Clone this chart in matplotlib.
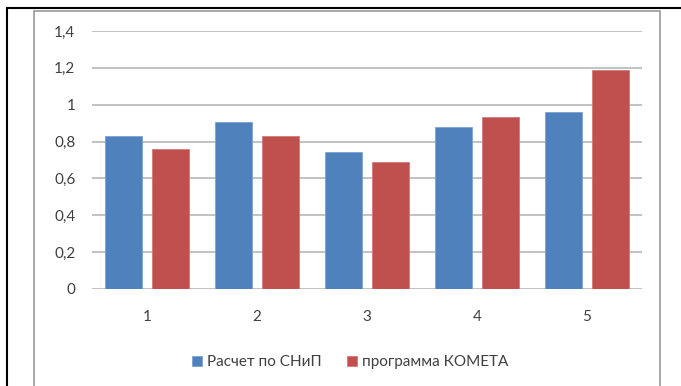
import numpy as np
import matplotlib.pyplot as plt
from matplotlib.patches import Rectangle
from matplotlib.lines import Line2D

# data
cats = ['1', '2', '3', '4', '5']
snip = [0.83, 0.905, 0.745, 0.88, 0.962]
kometa = [0.76, 0.83, 0.69, 0.933, 1.19]
names = ['Расчет по СНиП', 'программа КОМЕТА']
yticks = [0, 0.2, 0.4, 0.6, 0.8, 1.0, 1.2, 1.4]
ylabels = ['0', '0,2', '0,4', '0,6', '0,8', '1', '1,2', '1,4']

plt.rcParams['font.family'] = ['Lato', 'DejaVu Sans']

W, H = 681, 386
fig = plt.figure(figsize=(W/100, H/100), dpi=100)

# outer frames (black page frame + gray chart border)
fig.add_artist(Line2D([7/W, 1], [1-8/H, 1-8/H], color='black', lw=1.5))
fig.add_artist(Line2D([7/W, 7/W], [0, 1-8/H], color='black', lw=1.5))
fig.add_artist(Rectangle((34/W, -0.01), (660-34)/W, 1-11/H+0.01,
                         fill=False, edgecolor='#9a9a9a', lw=1.2))

ax = fig.add_axes([92/W, 1-289/H, (642-92)/W, (289-31)/H])
x = np.arange(1, len(cats)+1)
bw = 0.333
off = 0.211
ax.bar(x-off, snip, bw, color='#4F81BD', edgecolor='#7da2d0', lw=0.6,
       label=names[0], zorder=3)
ax.bar(x+off, kometa, bw, color='#C0504D', edgecolor='#d27b79', lw=0.6,
       label=names[1], zorder=3)

ax.set_xlim(0.5, 5.5)
ax.set_ylim(0, 1.4)
ax.set_xticks(x)
ax.set_xticklabels(cats)
ax.set_yticks(yticks)
ax.set_yticklabels(ylabels)
ax.tick_params(axis='both', length=0, labelsize=11, colors='#404040')
ax.tick_params(axis='y', pad=12)
ax.tick_params(axis='x', pad=15)
for s in ax.spines.values():
    s.set_visible(False)
ax.yaxis.grid(True, color='#b8b8b8', lw=1.2)
ax.set_axisbelow(True)

fig.legend(loc='center', bbox_to_anchor=(350/W, 1-362/H), ncol=2,
           frameon=False, fontsize=11, handlelength=0.65, handleheight=0.65,
           handletextpad=0.3, columnspacing=1.7, labelcolor='#404040')

fig.savefig('out.png', dpi=100)
